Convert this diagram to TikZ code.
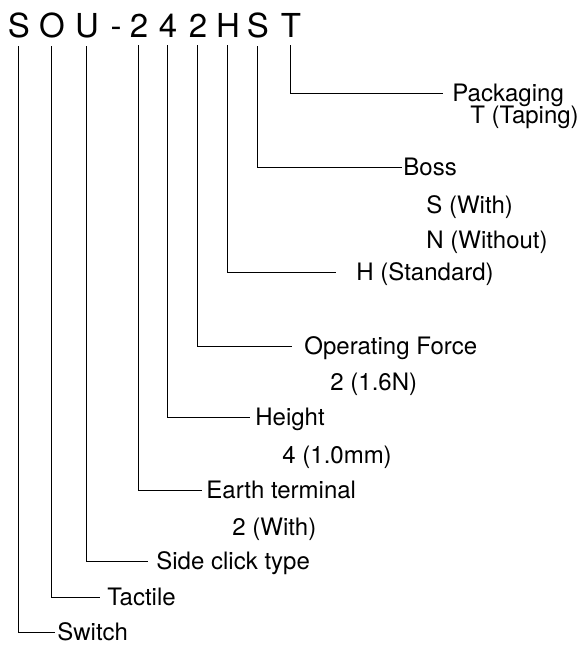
\documentclass[tikz,border=0pt]{standalone}
\usepackage{fontspec}
\setmainfont{TeX Gyre Heros}
\begin{document}
\begin{tikzpicture}[x=0.5pt,y=-0.5pt,
    code/.style={anchor=base,inner sep=4pt,font=\fontsize{16.5}{18}\selectfont},
    item/.style={anchor=west,inner sep=0pt,text height=8.6pt,text depth=0pt,font=\fontsize{12}{14}\selectfont},
    lead/.style={line width=0.5pt}]
      \useasboundingbox (0,0) rectangle (585,645);
      % part number
      \node[code] (cS)  at (19,37)  {S};
      \node[code] (cO)  at (52,37)  {O};
      \node[code] (cU)  at (87,37)  {U};
      \node[code] (cD)  at (116,37) {-};
      \node[code] (cE)  at (139,37) {2};
      \node[code] (cHt) at (168,37) {4};
      \node[code] (cF)  at (198,37) {2};
      \node[code] (cH)  at (228,37) {H};
      \node[code] (cB)  at (258,37) {S};
      \node[code] (cT)  at (291,37) {T};
      % meanings
      \node[item] (pack)  at (452,93)  {Packaging};
      \node[item] (tap)   at (470,115) {T (Taping)};
      \node[item] (boss)  at (403,167) {Boss};
      \node[item] (bwith) at (426,205) {S (With)};
      \node[item] (bwo)   at (426,240) {N (Without)};
      \node[item] (std)   at (356,272) {H (Standard)};
      \node[item] (force) at (304,346) {Operating Force};
      \node[item] (f16)   at (330,382) {2 (1.6N)};
      \node[item] (hgt)   at (255,417) {Height};
      \node[item] (h10)   at (282,455) {4 (1.0mm)};
      \node[item] (earth) at (206,490) {Earth terminal};
      \node[item] (ewith) at (232,527) {2 (With)};
      \node[item] (side)  at (156,561) {Side click type};
      \node[item] (tact)  at (107,597) {Tactile};
      \node[item] (sw)    at (57,632)  {Switch};
      % leaders
      \draw[lead,shorten >=4.5pt] (cT.south) |- (pack.west);
      \draw[lead,shorten >=0.5pt] (cB.south) |- (boss.west);
      \draw[lead,shorten >=10pt]  (cH.south) |- (std.west);
      \draw[lead,shorten >=6pt]   (cF.south) |- (force.west);
      \draw[lead,shorten >=2.5pt] (cHt.south) |- (hgt.west);
      \draw[lead,shorten >=2pt]   (cE.south) |- (earth.west);
      \draw[lead,shorten >=4pt]   (cU.south) |- (side.west);
      \draw[lead,shorten >=3.5pt] (cO.south) |- (tact.west);
      \draw[lead,shorten >=1pt]   (cS.south) |- (sw.west);
    \end{tikzpicture}
\end{document}
